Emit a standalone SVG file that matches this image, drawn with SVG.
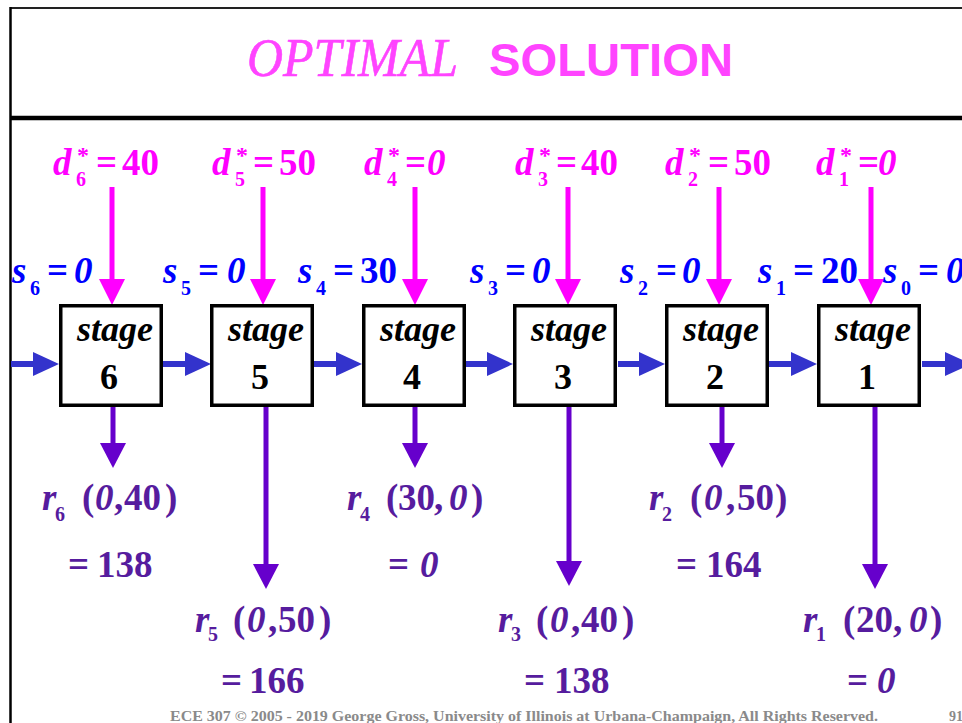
<svg xmlns="http://www.w3.org/2000/svg" width="962" height="723" viewBox="0 0 962 723">
<style>
.t{font-family:"Liberation Serif","Times New Roman",serif;font-weight:bold;font-size:37px}
.i{font-style:italic}
.sub{font-size:20px}
.star{font-size:24px}
.m{fill:#FF00FF}
.b{fill:#0000FF}
.p{fill:#561C9E}
.box{fill:#fff;stroke:#000;stroke-width:3.5}
.lbl{font-family:"Liberation Serif","Times New Roman",serif;font-weight:bold;font-size:36px;fill:#000;text-anchor:middle}
.ab{stroke:#3333CC;stroke-width:6}
.am{stroke:#FF00FF;stroke-width:5}
.ap{stroke:#6600CC;stroke-width:5}
</style>
<defs>
<marker id="hb" markerUnits="userSpaceOnUse" markerWidth="26" markerHeight="24" refX="0" refY="12" orient="auto"><path d="M0,0 L26,12 L0,24 z" fill="#3333CC"/></marker>
<marker id="hm" markerUnits="userSpaceOnUse" markerWidth="26" markerHeight="26" refX="0" refY="13" orient="auto"><path d="M0,0 L26,13 L0,26 z" fill="#FF00FF"/></marker>
<marker id="hp" markerUnits="userSpaceOnUse" markerWidth="25" markerHeight="26" refX="0" refY="13" orient="auto"><path d="M0,0 L25,13 L0,26 z" fill="#6600CC"/></marker>
</defs>
<rect width="962" height="723" fill="#fff"/>
<g id="frame">
<line x1="10" y1="8" x2="962" y2="8" stroke="#222" stroke-width="2"/>
<line x1="10.5" y1="7" x2="10.5" y2="723" stroke="#000" stroke-width="2.5"/>
<line x1="10" y1="118" x2="962" y2="118" stroke="#000" stroke-width="4.5"/>
</g>
<g id="title">
<text x="247" y="76" font-family="'Liberation Serif','Times New Roman',serif" font-style="italic" font-size="55" fill="#FF44FF" stroke="#FF44FF" stroke-width="0.6" textLength="211" lengthAdjust="spacingAndGlyphs">OPTIMAL</text>
<text x="489" y="76" font-family="'Liberation Sans',Arial,sans-serif" font-weight="bold" font-size="47" fill="#FF44FF" textLength="244" lengthAdjust="spacingAndGlyphs">SOLUTION</text>
</g>
<g id="connectors">
<line class="ab" x1="11" y1="364" x2="33" y2="364" marker-end="url(#hb)"/>
<line class="ab" x1="163" y1="364" x2="185" y2="364" marker-end="url(#hb)"/>
<line class="ab" x1="314" y1="364" x2="336" y2="364" marker-end="url(#hb)"/>
<line class="ab" x1="466" y1="364" x2="487" y2="364" marker-end="url(#hb)"/>
<line class="ab" x1="618" y1="364" x2="639" y2="364" marker-end="url(#hb)"/>
<line class="ab" x1="769" y1="364" x2="791" y2="364" marker-end="url(#hb)"/>
<line class="ab" x1="922" y1="364" x2="945" y2="364" marker-end="url(#hb)"/>
<line class="am" x1="112" y1="187" x2="112" y2="279" marker-end="url(#hm)"/>
<line class="am" x1="263" y1="187" x2="263" y2="279" marker-end="url(#hm)"/>
<line class="am" x1="415" y1="187" x2="415" y2="279" marker-end="url(#hm)"/>
<line class="am" x1="568" y1="187" x2="568" y2="279" marker-end="url(#hm)"/>
<line class="am" x1="719" y1="187" x2="719" y2="279" marker-end="url(#hm)"/>
<line class="am" x1="871" y1="187" x2="871" y2="279" marker-end="url(#hm)"/>
<line class="ap" x1="113" y1="407" x2="113" y2="443" marker-end="url(#hp)"/>
<line class="ap" x1="415" y1="407" x2="415" y2="443" marker-end="url(#hp)"/>
<line class="ap" x1="722" y1="407" x2="722" y2="443" marker-end="url(#hp)"/>
<line class="ap" x1="266" y1="407" x2="266" y2="564" marker-end="url(#hp)"/>
<line class="ap" x1="569" y1="407" x2="569" y2="561" marker-end="url(#hp)"/>
<line class="ap" x1="875" y1="407" x2="875" y2="564" marker-end="url(#hp)"/>
</g>
<g id="stage6"><rect class="box" x="60.75" y="305.75" width="100.5" height="99.5"/><text class="lbl i" x="115" y="341">stage</text><text class="lbl" x="109" y="389">6</text></g>
<g id="stage5"><rect class="box" x="211.75" y="305.75" width="100.5" height="99.5"/><text class="lbl i" x="266" y="341">stage</text><text class="lbl" x="260" y="389">5</text></g>
<g id="stage4"><rect class="box" x="363.75" y="305.75" width="100.5" height="99.5"/><text class="lbl i" x="418" y="341">stage</text><text class="lbl" x="412" y="389">4</text></g>
<g id="stage3"><rect class="box" x="514.75" y="305.75" width="100.5" height="99.5"/><text class="lbl i" x="569" y="341">stage</text><text class="lbl" x="563" y="389">3</text></g>
<g id="stage2"><rect class="box" x="666.75" y="305.75" width="100.5" height="99.5"/><text class="lbl i" x="721" y="341">stage</text><text class="lbl" x="715" y="389">2</text></g>
<g id="stage1"><rect class="box" x="818.75" y="305.75" width="100.5" height="99.5"/><text class="lbl i" x="873" y="341">stage</text><text class="lbl" x="867" y="389">1</text></g>
<g id="d-labels" class="t m">
<text x="53" y="175" class="i">d</text><text x="77" y="163" class="star">*</text><text x="76" y="186" class="sub">6</text><text x="96" y="175">=</text><text x="122" y="175">40</text>
<text x="212" y="175" class="i">d</text><text x="236" y="163" class="star">*</text><text x="235" y="186" class="sub">5</text><text x="253" y="175">=</text><text x="279" y="175">50</text>
<text x="364" y="175" class="i">d</text><text x="388" y="163" class="star">*</text><text x="387" y="186" class="sub">4</text><text x="405" y="175">=</text><text x="427" y="175" class="i">0</text>
<text x="515" y="175" class="i">d</text><text x="539" y="163" class="star">*</text><text x="538" y="186" class="sub">3</text><text x="556" y="175">=</text><text x="581" y="175">40</text>
<text x="665" y="175" class="i">d</text><text x="689" y="163" class="star">*</text><text x="688" y="186" class="sub">2</text><text x="708" y="175">=</text><text x="734" y="175">50</text>
<text x="816" y="175" class="i">d</text><text x="840" y="163" class="star">*</text><text x="839" y="186" class="sub">1</text><text x="858" y="175">=</text><text x="878" y="175" class="i">0</text>
</g>
<g id="s-labels" class="t b">
<text x="12" y="283" class="i">s</text><text x="30" y="295" class="sub">6</text><text x="47" y="283">=</text><text x="74" y="283" class="i">0</text>
<text x="163" y="283" class="i">s</text><text x="181" y="295" class="sub">5</text><text x="198" y="283">=</text><text x="227" y="283" class="i">0</text>
<text x="298" y="283" class="i">s</text><text x="316" y="295" class="sub">4</text><text x="333" y="283">=</text><text x="360" y="283">30</text>
<text x="470" y="283" class="i">s</text><text x="488" y="295" class="sub">3</text><text x="505" y="283">=</text><text x="532" y="283" class="i">0</text>
<text x="620" y="283" class="i">s</text><text x="638" y="295" class="sub">2</text><text x="656" y="283">=</text><text x="682" y="283" class="i">0</text>
<text x="758" y="283" class="i">s</text><text x="776" y="295" class="sub">1</text><text x="793" y="283">=</text><text x="821" y="283">20</text>
<text x="883" y="283" class="i">s</text><text x="901" y="295" class="sub">0</text><text x="918" y="283">=</text><text x="946" y="283" class="i">0</text>
</g>
<g id="r-labels" class="t p">
<text x="42" y="510" class="i">r</text><text x="55" y="521" class="sub">6</text><text x="82" y="510">(</text><text x="95" y="510" class="i">0</text><text x="114" y="510">,</text><text x="124" y="510">40</text><text x="165" y="510">)</text>
<text x="68" y="577">=</text><text x="97" y="577">138</text>
<text x="347" y="510" class="i">r</text><text x="360" y="521" class="sub">4</text><text x="386" y="510">(</text><text x="398" y="510">30</text><text x="434" y="510">,</text><text x="449" y="510" class="i">0</text><text x="471" y="510">)</text>
<text x="388" y="577">=</text><text x="420" y="577" class="i">0</text>
<text x="649" y="510" class="i">r</text><text x="662" y="521" class="sub">2</text><text x="690" y="510">(</text><text x="704" y="510" class="i">0</text><text x="726" y="510">,</text><text x="737" y="510">50</text><text x="775" y="510">)</text>
<text x="676" y="577">=</text><text x="706" y="577">164</text>
<text x="195" y="632" class="i">r</text><text x="208" y="641" class="sub">5</text><text x="233" y="632">(</text><text x="247" y="632" class="i">0</text><text x="268" y="632">,</text><text x="278" y="632">50</text><text x="319" y="632">)</text>
<text x="221" y="693">=</text><text x="249" y="693">166</text>
<text x="498" y="632" class="i">r</text><text x="511" y="641" class="sub">3</text><text x="536" y="632">(</text><text x="550" y="632" class="i">0</text><text x="571" y="632">,</text><text x="581" y="632">40</text><text x="622" y="632">)</text>
<text x="524" y="693">=</text><text x="554" y="693">138</text>
<text x="803" y="632" class="i">r</text><text x="816" y="641" class="sub">1</text><text x="843" y="632">(</text><text x="856" y="632">20</text><text x="893" y="632">,</text><text x="909" y="632" class="i">0</text><text x="930" y="632">)</text>
<text x="847" y="693">=</text><text x="877" y="693" class="i">0</text>
</g>
<g id="footer" font-family="'Liberation Serif','Times New Roman',serif" font-weight="bold" font-size="14" fill="#8a8a8a">
<text x="170" y="721" textLength="708" lengthAdjust="spacingAndGlyphs">ECE 307 © 2005 - 2019 George Gross, University of Illinois at Urbana-Champaign, All Rights Reserved.</text>
<text x="949" y="721">91</text>
</g>
</svg>
